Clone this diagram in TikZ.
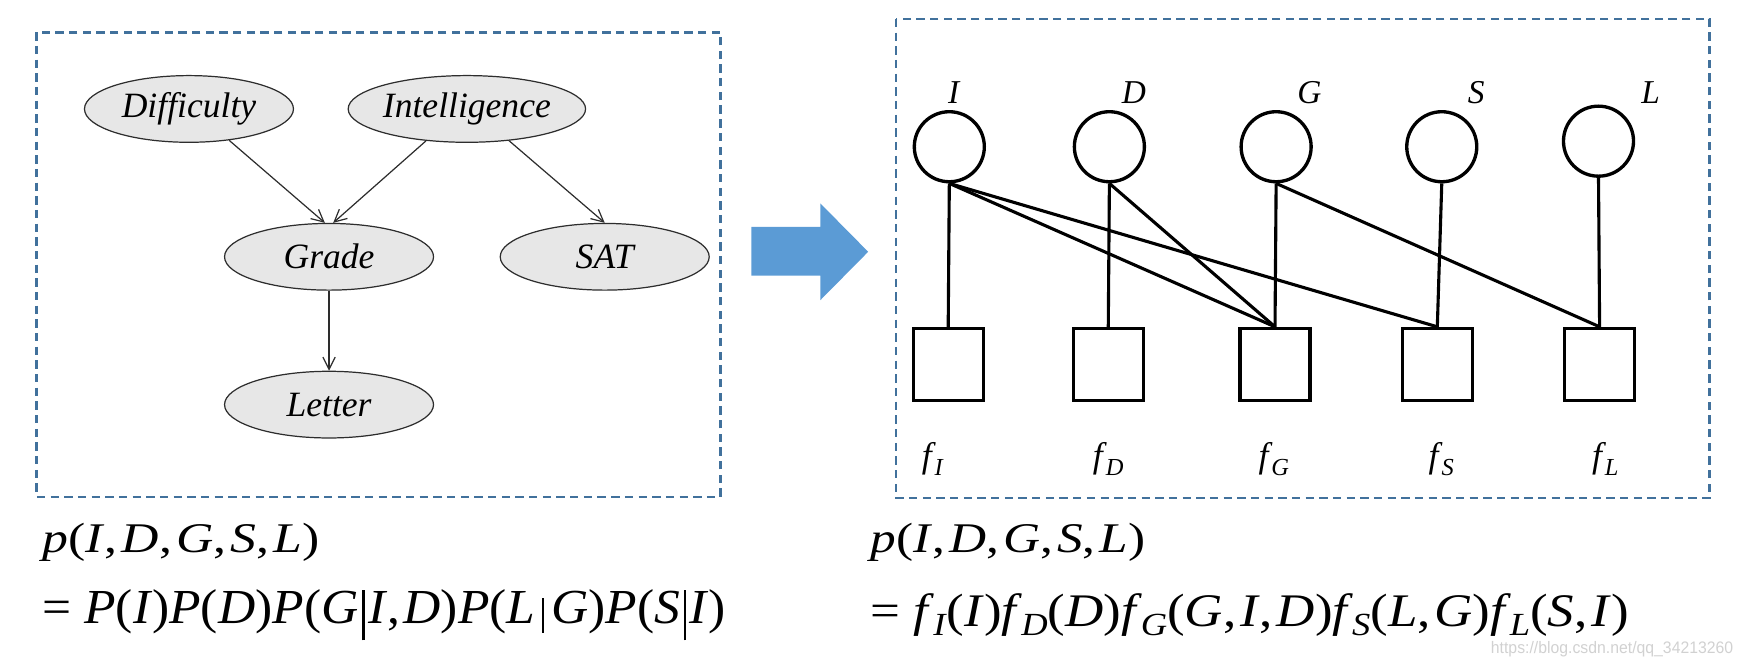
\documentclass[tikz,border=0pt]{standalone}
\usepackage{fontspec}
\usepackage{graphicx}
\setmainfont{Liberation Serif}
\newfontfamily\wmfont{Liberation Sans}
\usetikzlibrary{shapes.geometric,arrows.meta}

\definecolor{boxblue}{RGB}{65,113,156}
\definecolor{arrowblue}{RGB}{91,155,213}
\definecolor{nodegray}{RGB}{231,231,231}
\definecolor{edgegray}{RGB}{45,45,45}

% italic variable, factor symbol with subscript, separators and conditioning bars
\newcommand\var[1]{\textit{#1}}
\newcommand\fsub[3]{\textit{f}\kern-1pt\raisebox{-#3}{\fontsize{#2}{#2}\selectfont\textit{#1}}}
\newcommand\cm{,\kern3pt}
\newcommand\tallbar{\kern3pt\vrule width 2.2pt height 30pt depth 15pt\kern3pt}
\newcommand\smallbar{\kern6pt\vrule width 1.6pt height 23pt depth 8pt\kern6pt}

\begin{document}
\begin{tikzpicture}[x=1pt,y=-1pt,
  bn/.style={ellipse, draw=edgegray, line width=1.1pt, fill=nodegray,
    minimum width=188pt, minimum height=60pt, inner sep=0pt,
    font=\fontsize{32pt}{32pt}\selectfont\itshape},
  dep/.style={draw=edgegray, line width=1.1pt, -{Straight Barb[length=11pt,width=11pt]}},
  frame/.style={draw=boxblue, line width=2.4pt, dash pattern=on 7.5pt off 4.8pt},
  varnode/.style={circle, draw, line width=3pt, minimum size=63pt, inner sep=0pt},
  facnode/.style={rectangle, draw, line width=3pt, minimum width=63pt,
    minimum height=65pt, inner sep=0pt},
  link/.style={line width=2.8pt},
  lbl/.style={font=\fontsize{30pt}{30pt}\selectfont\itshape, anchor=base, inner sep=0pt},
  flbl/.style={font=\fontsize{32pt}{32pt}\selectfont, anchor=base west, inner sep=0pt},
  formula/.style={anchor=base west, inner sep=0pt}
]
\useasboundingbox (0,0) rectangle (1568,594);

% ---------- Bayesian network ----------
\draw[frame] (33,29) rectangle (648,447);
\node[bn] (dif)    at (170,98)  {Difficulty};
\node[bn] (int)    at (420,98)  {Intelligence};
\node[bn] (grade)  at (296,231) {Grade};
\node[bn] (sat)    at (544,231) {SAT};
\node[bn] (letter) at (296,364) {Letter};

\draw[dep] (dif.-38)  -- (grade.97);
\draw[dep] (int.-142) -- (grade.83);
\draw[dep] (int.-37)  -- (sat.north);
\draw[dep] (grade.south) -- (letter.north);

% ---------- conversion arrow ----------
\fill[arrowblue] (676,204) -- (738,204) -- (738,183) -- (781,226.5)
  -- (738,270) -- (738,248) -- (676,248) -- cycle;

% ---------- factor graph ----------
\draw[frame] (806,17) rectangle (1538,448);

\node[varnode] (vI) at (854,132) {};
\node[varnode] (vD) at (998,132) {};
\node[varnode] (vG) at (1148,132) {};
\node[varnode] (vS) at (1297,132) {};
\node[varnode] (vL) at (1438,127) {};

\node[lbl] (tI) at (858,93)  {I};
\node[lbl] (tD) at (1020,93) {D};
\node[lbl] (tG) at (1178,93) {G};
\node[lbl] (tS) at (1328,93) {S};
\node[lbl] (tL) at (1485,93) {L};

\node[facnode] (fI) at (853,328)  {};
\node[facnode] (fD) at (997,328)  {};
\node[facnode] (fG) at (1147,328) {};
\node[facnode] (fS) at (1293,328) {};
\node[facnode] (fL) at (1439,328) {};

\draw[link] (vI.south) -- (fI.north);
\draw[link] (vI.south) -- (fG.north);
\draw[link] (vI.south) -- (fS.north);
\draw[link] (vD.south) -- (fD.north);
\draw[link] (vD.south) -- (fG.north);
\draw[link] (vG.south) -- (fG.north);
\draw[link] (vG.south) -- (fL.north);
\draw[link] (vS.south) -- (fS.north);
\draw[link] (vL.south) -- (fL.north);

\node[flbl] (lI) at (829,421)  {\fsub{I}{22pt}{7pt}};
\node[flbl] (lD) at (983,421)  {\fsub{D}{22pt}{7pt}};
\node[flbl] (lG) at (1132,421) {\fsub{G}{22pt}{7pt}};
\node[flbl] (lS) at (1285,421) {\fsub{S}{22pt}{7pt}};
\node[flbl] (lL) at (1432,421) {\fsub{L}{22pt}{7pt}};

% ---------- factorisations ----------
\node[formula, font=\fontsize{38pt}{38pt}\selectfont] (pl1) at (38,497)
  {\resizebox{249pt}{\height}{%
  \var{p}(\var{I}\cm\var{D}\cm\var{G}\cm\var{S}\cm\var{L})}};
\node[formula, font=\fontsize{44pt}{44pt}\selectfont] (pl2) at (38,561)
  {\resizebox{615pt}{\height}{%
  = \var{P}(\var{I})\var{P}(\var{D})\var{P}(\var{G}\tallbar\var{I}\cm\var{D})%
  \var{P}(\var{L}\smallbar\var{G})\var{P}(\var{S}\tallbar\var{I})}};

\node[formula, font=\fontsize{38pt}{38pt}\selectfont] (pr1) at (783,497)
  {\resizebox{247pt}{\height}{%
  \var{p}(\var{I}\cm\var{D}\cm\var{G}\cm\var{S}\cm\var{L})}};
\node[formula, font=\fontsize{42pt}{42pt}\selectfont] (pr2) at (783,564)
  {\resizebox{682pt}{\height}{%
  = \fsub{I}{29pt}{8pt}(\var{I})\fsub{D}{29pt}{8pt}(\var{D})%
  \fsub{G}{29pt}{8pt}(\var{G}\cm\var{I}\cm\var{D})%
  \fsub{S}{29pt}{8pt}(\var{L}\cm\var{G})\fsub{L}{29pt}{8pt}(\var{S}\cm\var{I})}};

\node[anchor=base west, inner sep=0pt, text=black!18,
  font=\wmfont\fontsize{15pt}{15pt}\selectfont] (wm) at (1341,588)
  {\resizebox{218pt}{\height}{https://blog.csdn.net/qq\_34213260}};
\end{tikzpicture}
\end{document}
